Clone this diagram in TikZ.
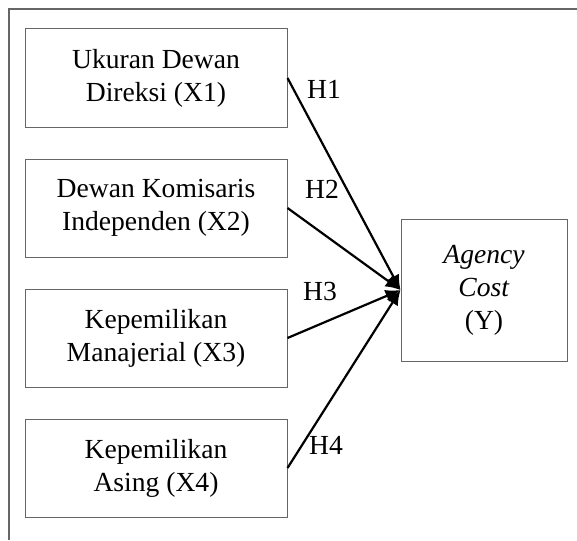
\documentclass[tikz,border=0pt]{standalone}
\usepackage{fontspec}
\setmainfont{Liberation Serif}
\usetikzlibrary{arrows, arrows.meta, positioning}
\tikzset{
    varBox/.style={rectangle, draw=black!60, line width=0.5pt, minimum width=131pt, minimum height=49pt, inner sep=2pt, align=center, font=\fontsize{13.8}{16.5}\selectfont},
    depBox/.style={varBox, minimum width=83pt, minimum height=71pt},
    hypEdge/.style={-{Latex[length=7.5pt, width=6.5pt]}, line width=1.1pt},
    hypLabel/.style={font=\fontsize{13.8}{16.5}\selectfont, inner sep=0pt},
    frameLine/.style={draw=black!60, line width=0.6pt},
}
\newcommand{\drawHyp}[2]{
    \draw[hypEdge] (#1.east) -- (#2.west);
}

\begin{document}
\begin{tikzpicture}[x=0.5pt, y=-0.5pt]

        \useasboundingbox (0,0) rectangle (577,540);
        \draw[frameLine] (9,540) |- (577,9);

        \node[varBox] (X1) at (156, 78) {Ukuran Dewan\\Direksi (X1)};
        \node[varBox] (X2) at (156, 208) {Dewan Komisaris\\Independen (X2)};
        \node[varBox] (X3) at (156, 338) {Kepemilikan\\Manajerial (X3)};
        \node[varBox] (X4) at (156, 468) {Kepemilikan\\Asing (X4)};
        \node[depBox] (Y) at (484, 290) {\textit{Agency}\\\textit{Cost}\\(Y)};

        \node[hypLabel] (h1) at (324, 89) {H1};
        \node[hypLabel] (h2) at (322, 189) {H2};
        \node[hypLabel] (h3) at (320, 291) {H3};
        \node[hypLabel] (h4) at (326, 445) {H4};

        \drawHyp{X1}{Y}
        \drawHyp{X2}{Y}
        \drawHyp{X3}{Y}
        \drawHyp{X4}{Y}

    \end{tikzpicture}
\end{document}
